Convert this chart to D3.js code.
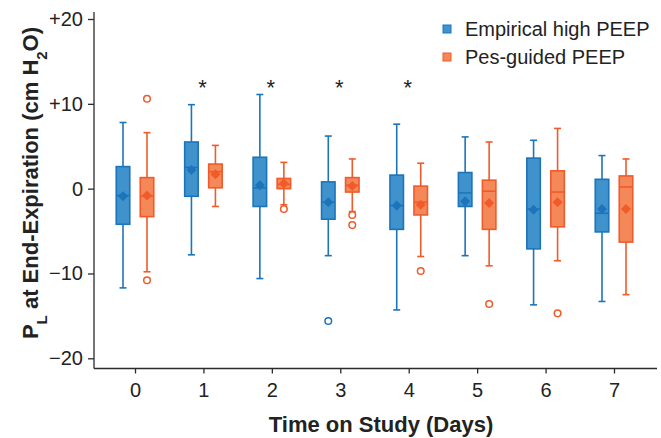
<!DOCTYPE html>
<html>
<head>
<meta charset="utf-8">
<script src="https://cdn.jsdelivr.net/npm/d3@7"></script>
<style>
  body { margin: 0; background: #fff; }
  text { font-family: "Liberation Sans", Arial, Helvetica, sans-serif; }
</style>
</head>
<body>
<script>
// days on study
var days = [0, 1, 2, 3, 4, 5, 6, 7];
var yTicks = [20, 10, 0, -10, -20];
var seriesNames = ["Empirical high PEEP", "Pes-guided PEEP"];

// per day: [whisker low, Q1, median, Q3, whisker high, mean]
var empiricalStats = [
    [-11.7, -4.2, -0.8, 2.6, 7.8, -0.9],
    [-7.8, -0.9, 2.5, 5.5, 9.9, 2.2],
    [-10.6, -2.1, 0.1, 3.7, 11.1, 0.4],
    [-7.9, -3.6, -1.6, 0.8, 6.2, -1.6],
    [-14.3, -4.8, -2.0, 1.6, 7.6, -2.0],
    [-7.9, -2.1, -0.5, 1.9, 6.1, -1.5],
    [-13.7, -7.1, -2.4, 3.6, 5.7, -2.5],
    [-13.3, -5.1, -2.9, 1.1, 3.9, -2.4]
];
var pesStats = [
    [-9.8, -3.3, -0.9, 1.3, 6.6, -0.8],
    [-2.1, 0.1, 2.0, 2.9, 5.1, 1.7],
    [-1.9, 0.0, 0.5, 1.2, 3.1, 0.6],
    [-2.7, -0.4, 0.4, 1.3, 3.5, 0.3],
    [-8.0, -3.1, -1.6, 0.3, 3.0, -1.9],
    [-9.1, -4.8, -0.3, 1.0, 5.5, -1.7],
    [-8.5, -4.5, -0.4, 2.1, 7.1, -1.6],
    [-12.5, -6.3, 0.2, 1.5, 3.5, -2.4]
];
// outliers: [day, value]
var empiricalOutliers = [[3, -15.6]];
var pesOutliers = [[0, 10.6], [0, -10.8], [2, -2.4], [3, -3.1], [3, -4.3], [4, -9.7], [5, -13.6], [6, -14.7]];
// days with significant difference
var starDays = [1, 2, 3, 4];
var starValue = 12.1;

var W = 661, H = 438;
var svg = d3.select("body").append("svg")
    .attr("width", W)
    .attr("height", H);

var x = d3.scaleLinear().domain([0, 7]).range([135, 614]);
var y = d3.scaleLinear().domain([-20, 20]).range([358.3, 19]);

var groups = [
    { stats: empiricalStats, outliers: empiricalOutliers, off: -12, fill: "#3f92cb", stroke: "#1c74bb" },
    { stats: pesStats, outliers: pesOutliers, off: 12, fill: "#f58859", stroke: "#f15a29" }
];
var boxW = 13.5, capW = 7;

// axes
var axisColor = "#2b2b2b";
var yAxis = svg.append("g")
    .attr("transform", "translate(94,0)")
    .call(d3.axisLeft(y).tickValues(yTicks).tickSize(6).tickSizeOuter(0)
        .tickFormat(function(d) { return d > 0 ? "+" + d : d < 0 ? "\u2212" + (-d) : "0"; }));
yAxis.select(".domain").attr("d", "M0,12V368.5");

var xAxis = svg.append("g")
    .attr("transform", "translate(0,368.5)")
    .call(d3.axisBottom(x).tickValues(days).tickSize(5).tickSizeOuter(0)
        .tickFormat(d3.format("d")));
xAxis.select(".domain").attr("d", "M94,0H657");

svg.selectAll(".tick text")
    .style("font-size", "20px")
    .attr("fill", "#222");
svg.selectAll(".domain, .tick line")
    .attr("stroke", axisColor)
    .attr("stroke-width", 1.3);
yAxis.selectAll(".tick text").attr("x", -11);
xAxis.selectAll(".tick text").attr("y", 14);

// boxes
groups.forEach(function(g) {
    var gg = svg.append("g");
    g.stats.forEach(function(s, i) {
        var cx = x(days[i]) + g.off;
        // whisker line
        gg.append("line")
            .attr("x1", cx).attr("x2", cx)
            .attr("y1", y(s[0])).attr("y2", y(s[4]))
            .attr("stroke", g.stroke).attr("stroke-width", 1.6);
        [s[0], s[4]].forEach(function(v) {
            gg.append("line")
                .attr("x1", cx - capW / 2).attr("x2", cx + capW / 2)
                .attr("y1", y(v)).attr("y2", y(v))
                .attr("stroke", g.stroke).attr("stroke-width", 1.6);
        });
        gg.append("rect")
            .attr("x", cx - boxW / 2)
            .attr("y", y(s[3]))
            .attr("width", boxW)
            .attr("height", y(s[1]) - y(s[3]))
            .attr("fill", g.fill)
            .attr("stroke", g.stroke)
            .attr("stroke-width", 1.6);
        gg.append("line")
            .attr("x1", cx - boxW / 2).attr("x2", cx + boxW / 2)
            .attr("y1", y(s[2])).attr("y2", y(s[2]))
            .attr("stroke", g.stroke).attr("stroke-width", 1.6);
        // mean diamond
        gg.append("path")
            .attr("d", d3.symbol(d3.symbolDiamond2, 64)())
            .attr("transform", "translate(" + cx + "," + y(s[5]) + ")")
            .attr("fill", g.stroke);
    });
    gg.selectAll("circle")
        .data(g.outliers)
        .enter()
        .append("circle")
        .attr("cx", function(d) { return x(d[0]) + g.off; })
        .attr("cy", function(d) { return y(d[1]); })
        .attr("r", 3.3)
        .attr("fill", "#fff")
        .attr("stroke", g.stroke)
        .attr("stroke-width", 1.5);
});

// significance stars
svg.selectAll(".star")
    .data(starDays)
    .enter()
    .append("text")
    .attr("class", "star")
    .attr("x", function(d) { return x(d) - 1; })
    .attr("y", y(starValue) + 9)
    .attr("text-anchor", "middle")
    .style("font-size", "22px")
    .attr("fill", "#222")
    .text("*");

// legend
var legend = svg.append("g").attr("transform", "translate(443,0)");
groups.forEach(function(g, i) {
    var ly = 29 + i * 28;
    legend.append("rect")
        .attr("x", 0).attr("y", ly - 4)
        .attr("width", 8).attr("height", 8)
        .attr("fill", g.fill).attr("stroke", g.stroke).attr("stroke-width", 1);
    legend.append("text")
        .attr("x", 22).attr("y", ly + 7)
        .style("font-size", "20px")
        .attr("fill", "#222")
        .text(seriesNames[i]);
});

// axis titles
svg.append("text")
    .attr("x", 381).attr("y", 432)
    .attr("text-anchor", "middle")
    .style("font-size", "22px")
    .style("font-weight", "bold")
    .attr("fill", "#222")
    .text("Time on Study (Days)");

var yl = svg.append("text")
    .attr("transform", "translate(38,183) rotate(-90)")
    .attr("text-anchor", "middle")
    .style("font-size", "22px")
    .style("font-weight", "bold")
    .attr("fill", "#222");
yl.append("tspan").text("P");
yl.append("tspan").attr("baseline-shift", "sub").style("font-size", "15px").text("L");
yl.append("tspan").text(" at End-Expiration (cm H");
yl.append("tspan").attr("baseline-shift", "sub").style("font-size", "15px").text("2");
yl.append("tspan").text("O)");
</script>
</body>
</html>
